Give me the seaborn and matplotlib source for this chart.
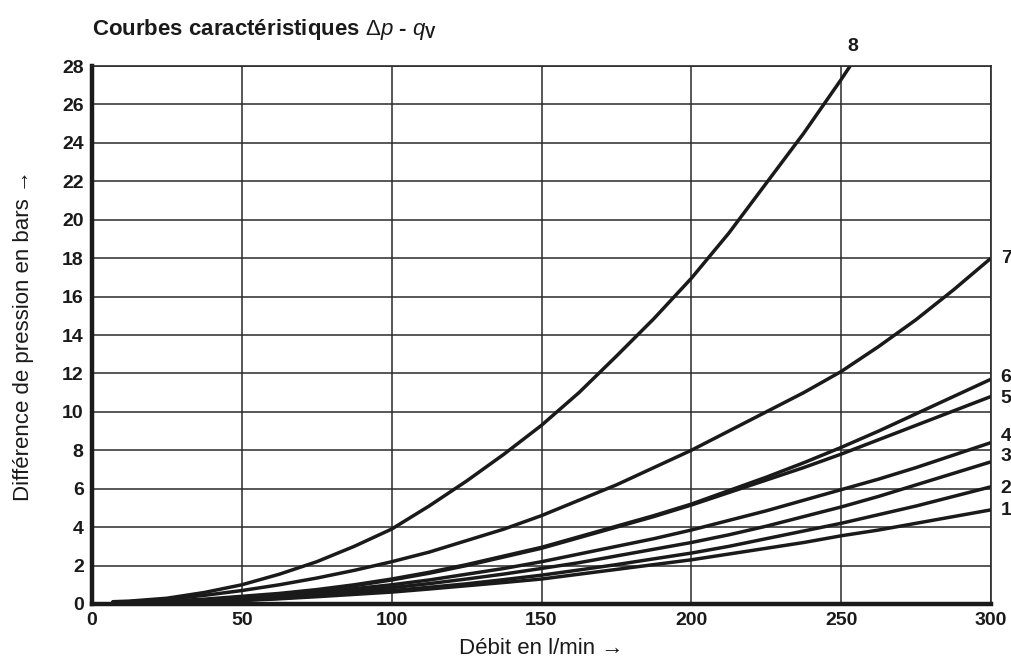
import numpy as np
import pandas as pd
import matplotlib
matplotlib.use("Agg")
import matplotlib.pyplot as plt
import seaborn as sns

# ---- data ----
flow = [7, 12.5, 25, 37.5, 50, 62.5, 75, 87.5, 100, 112.5, 125, 137.5, 150,
        162.5, 175, 187.5, 200, 212.5, 225, 237.5, 250, 262.5, 275, 287.5, 300]
curve_1 = [0.04, 0.05, 0.07, 0.12, 0.18, 0.27, 0.38, 0.50, 0.62, 0.78, 0.95, 1.12, 1.30,
           1.55, 1.80, 2.05, 2.30, 2.60, 2.90, 3.20, 3.55, 3.85, 4.20, 4.55, 4.90]
curve_2 = [0.05, 0.06, 0.08, 0.13, 0.20, 0.30, 0.42, 0.55, 0.70, 0.87, 1.05, 1.27, 1.50,
           1.77, 2.05, 2.35, 2.65, 3.00, 3.40, 3.80, 4.20, 4.65, 5.10, 5.60, 6.10]
curve_3 = [0.05, 0.07, 0.10, 0.16, 0.25, 0.36, 0.50, 0.66, 0.85, 1.06, 1.30, 1.56, 1.85,
           2.15, 2.50, 2.85, 3.20, 3.60, 4.05, 4.55, 5.05, 5.60, 6.20, 6.80, 7.40]
curve_4 = [0.06, 0.08, 0.10, 0.18, 0.30, 0.43, 0.60, 0.80, 1.00, 1.25, 1.55, 1.85, 2.20,
           2.60, 3.00, 3.40, 3.85, 4.35, 4.85, 5.40, 5.95, 6.50, 7.10, 7.75, 8.40]
curve_5 = [0.07, 0.09, 0.13, 0.22, 0.35, 0.50, 0.70, 0.95, 1.25, 1.60, 2.00, 2.45, 2.90,
           3.45, 4.00, 4.55, 5.15, 5.80, 6.45, 7.10, 7.80, 8.55, 9.30, 10.05, 10.80]
curve_6 = [0.08, 0.10, 0.15, 0.25, 0.40, 0.55, 0.75, 1.00, 1.30, 1.65, 2.05, 2.50, 2.95,
           3.50, 4.05, 4.60, 5.20, 5.90, 6.60, 7.35, 8.15, 9.00, 9.90, 10.80, 11.70]
curve_7 = [0.10, 0.12, 0.25, 0.45, 0.70, 1.00, 1.35, 1.75, 2.20, 2.70, 3.30, 3.90, 4.60,
           5.40, 6.20, 7.10, 8.00, 9.00, 10.00, 11.00, 12.10, 13.40, 14.80, 16.35, 18.00]
flow_8 = [7, 12.5, 25, 37.5, 50, 62.5, 75, 87.5, 100, 112.5, 125, 137.5, 150,
          162.5, 175, 187.5, 200, 212.5, 225, 237.5, 250, 253]
curve_8 = [0.12, 0.15, 0.30, 0.60, 1.00, 1.55, 2.20, 3.00, 3.90, 5.10, 6.40, 7.80, 9.30,
           11.00, 12.90, 14.85, 16.95, 19.30, 21.90, 24.50, 27.30, 28.00]

curve_names = ["1", "2", "3", "4", "5", "6", "7", "8"]
x_ticks = [0, 50, 100, 150, 200, 250, 300]
y_ticks = list(range(0, 29, 2))

title_text = r"Courbes caractéristiques $\Delta\mathit{p}$ - $\mathit{q}_{\mathbf{V}}$"
xlabel_text = "Débit en l/min →"
ylabel_text = "Différence de pression en bars →"

# ---- build long-form table ----
rows = []
series = [curve_1, curve_2, curve_3, curve_4, curve_5, curve_6, curve_7]
for name, ys in zip(curve_names[:7], series):
    for x, y in zip(flow, ys):
        rows.append({"flow": x, "dp": y, "curve": name})
for x, y in zip(flow_8, curve_8):
    rows.append({"flow": x, "dp": y, "curve": "8"})
df = pd.DataFrame(rows)

# ---- style ----
sns.set_style("white")
plt.rcParams["font.family"] = ["Liberation Sans", "DejaVu Sans"]
plt.rcParams["mathtext.fontset"] = "custom"
plt.rcParams["mathtext.rm"] = "Liberation Sans"
plt.rcParams["mathtext.it"] = "Liberation Sans:italic"
plt.rcParams["mathtext.bf"] = "Liberation Sans:bold"

fig = plt.figure(figsize=(10.11, 6.64), dpi=100)
ax = fig.add_axes([92 / 1011, 1 - 604 / 664, (991 - 92) / 1011, (604 - 66) / 664])

sns.lineplot(data=df, x="flow", y="dp", hue="curve", units="curve", estimator=None,
             palette=["#1a1a1a"] * 8, linewidth=2.5, legend=False, ax=ax, sort=False)

ax.set_xlim(0, 300)
ax.set_ylim(0, 28)
ax.set_xticks(x_ticks)
ax.set_yticks(y_ticks)
ax.set_xticklabels([str(t) for t in x_ticks], fontweight="bold", fontsize=14)
ax.set_yticklabels([str(t) for t in y_ticks], fontweight="bold", fontsize=14)
ax.tick_params(axis="both", length=0, pad=6, colors="#1a1a1a")
ax.grid(True, color="#2a2a2a", linewidth=1.1)
ax.set_axisbelow(True)

for side in ["left", "bottom"]:
    ax.spines[side].set_linewidth(3.2)
    ax.spines[side].set_color("#1a1a1a")
for side in ["top", "right"]:
    ax.spines[side].set_linewidth(1.2)
    ax.spines[side].set_color("#2a2a2a")

ax.set_xlabel(xlabel_text, fontsize=16, color="#1a1a1a", labelpad=6)
ax.set_ylabel(ylabel_text, fontsize=16, color="#1a1a1a", labelpad=20)

fig.text(92 / 1011, 1 - 29 / 664, title_text, fontsize=16, fontweight="bold",
         color="#1a1a1a", ha="left", va="center")

# curve labels at the right / top
label_y = {"1": 4.85, "2": 6.0, "3": 7.7, "4": 8.7, "5": 10.7, "6": 11.8, "7": 18.0}
for name in curve_names[:7]:
    ax.annotate(name, xy=(300, label_y[name]), xytext=(7, 0), textcoords="offset points",
                ha="left", va="center", fontsize=14, fontweight="bold",
                color="#1a1a1a", annotation_clip=False)
ax.annotate("8", xy=(flow_8[-1], curve_8[-1]), xytext=(2, 14), textcoords="offset points",
            ha="center", va="center", fontsize=14, fontweight="bold",
            color="#1a1a1a", annotation_clip=False)

fig.savefig("out.png", dpi=100)
